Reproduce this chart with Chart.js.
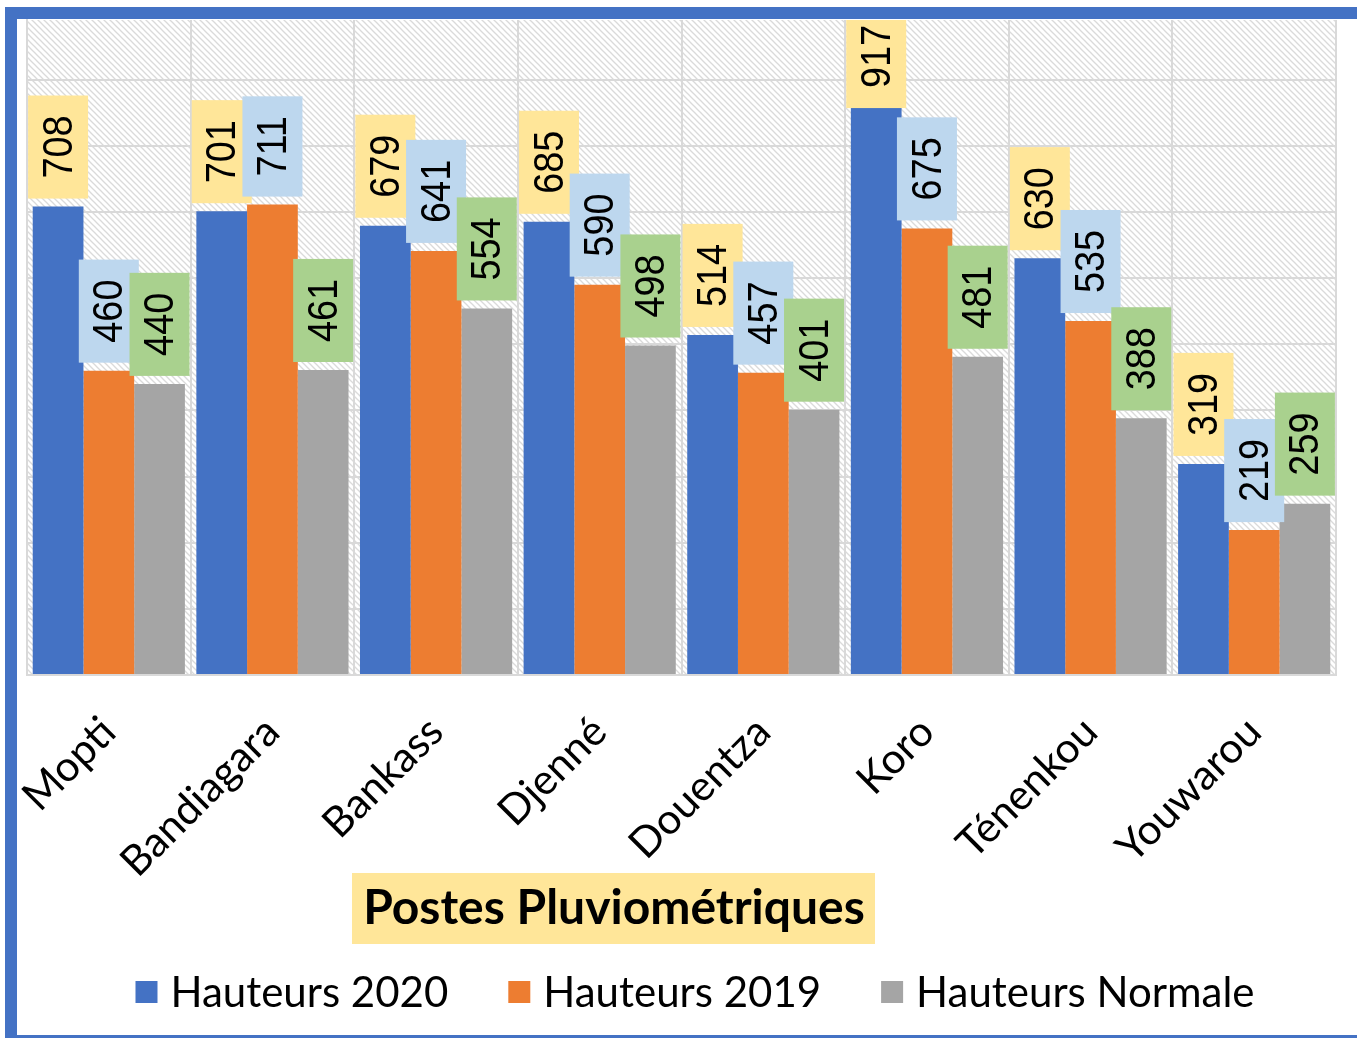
<!DOCTYPE html>
<html>
<head>
<meta charset="utf-8">
<title>Postes Pluviométriques</title>
<script src="https://cdn.jsdelivr.net/npm/chart.js@4.4.0/dist/chart.umd.min.js"></script>
<style>
  html, body { margin: 0; padding: 0; background: #fff; }
</style>
</head>
<body>
<canvas id="pluieChart" width="1357" height="1039"></canvas>
<script>
// données
var postes = ["Mopti", "Bandiagara", "Bankass", "Djenné", "Douentza", "Koro", "Ténenkou", "Youwarou"];
var hauteurs2020 = [708, 701, 679, 685, 514, 917, 630, 319];
var hauteurs2019 = [460, 711, 641, 590, 457, 675, 535, 219];
var hauteursNormale = [440, 461, 554, 498, 401, 481, 388, 259];
var seriesNames = ["Hauteurs 2020", "Hauteurs 2019", "Hauteurs Normale"];
var yTicks = [0, 100, 200, 300, 400, 500, 600, 700, 800, 900];
var axisTitle = "Postes Pluviométriques";

var barColors = ["#4472C4", "#ED7D31", "#A5A5A5"];
var labelColors = ["#FFE699", "#BDD7EE", "#A9D18E"];
var gridColor = "#D9D9D9";

// motif hachuré du fond
var hatch = (function() {
  var c = document.createElement("canvas");
  c.width = 6; c.height = 6;
  var g = c.getContext("2d");
  g.strokeStyle = "#DADADA";
  g.lineWidth = 1.3;
  [[-1, -1, 7, 7], [-1, 5, 1, 7], [5, -1, 7, 1]].forEach(function(l) {
    g.beginPath(); g.moveTo(l[0], l[1]); g.lineTo(l[2], l[3]); g.stroke();
  });
  return c;
})();

var decor = {
  id: "decor",
  beforeDraw: function(chart) {
    var ctx = chart.ctx, a = chart.chartArea;
    ctx.save();
    ctx.fillStyle = ctx.createPattern(hatch, "repeat");
    ctx.fillRect(a.left, a.top, a.right - a.left, a.bottom - a.top);
    ctx.restore();
  },
  afterDatasetsDraw: function(chart) {
    // étiquettes de valeurs, verticales, sur fond coloré
    var ctx = chart.ctx, a = chart.chartArea;
    var squeeze = 0.9;
    ctx.save();
    ctx.beginPath();
    ctx.rect(a.left, a.top, a.right - a.left, a.bottom - a.top);
    ctx.clip();
    ctx.font = '42px "Liberation Sans", sans-serif';
    chart.data.datasets.forEach(function(ds, i) {
      var meta = chart.getDatasetMeta(i);
      meta.data.forEach(function(bar, j) {
        var txt = String(ds.data[j]);
        var boxH = ctx.measureText(txt).width * squeeze + 40;
        var boxW = 60;
        var bottom = Math.max(bar.y - 8, 5 + boxH);
        var top = bottom - boxH;
        ctx.fillStyle = labelColors[i];
        ctx.fillRect(bar.x - boxW / 2, top, boxW, boxH);
        ctx.save();
        ctx.translate(bar.x, top + boxH / 2);
        ctx.rotate(-Math.PI / 2);
        ctx.scale(squeeze, 1);
        ctx.fillStyle = "#000";
        ctx.textAlign = "center";
        ctx.textBaseline = "middle";
        ctx.fillText(txt, 0, 2);
        ctx.restore();
      });
    });
    ctx.restore();
  },
  afterDraw: function(chart) {
    var ctx = chart.ctx;
    ctx.save();
    // titre de l'axe
    ctx.font = "bold 48px Lato";
    ctx.fillStyle = "#FFE699";
    ctx.fillRect(352, 873, 523, 71);
    ctx.fillStyle = "#000";
    ctx.textAlign = "center";
    ctx.textBaseline = "middle";
    ctx.fillText(axisTitle, 614, 909);

    // légende
    ctx.font = "42px Lato";
    ctx.textAlign = "left";
    var items = chart.data.datasets.map(function(ds) {
      return { text: ds.label, color: ds.backgroundColor, w: ctx.measureText(ds.label).width };
    });
    var total = items.reduce(function(s, it) { return s + 22 + 13 + it.w; }, 0) + 60 * (items.length - 1);
    var x = 695 - total / 2;
    items.forEach(function(it) {
      ctx.fillStyle = it.color;
      ctx.fillRect(x, 981, 22, 22);
      ctx.fillStyle = "#000";
      ctx.fillText(it.text, x + 35, 993);
      x += 35 + it.w + 60;
    });

    // cadre bleu
    ctx.fillStyle = "#4472C4";
    ctx.fillRect(5, 7, 12, 1031);
    ctx.fillRect(5, 7, 1352, 12);
    ctx.fillRect(5, 1035, 1352, 3);
    ctx.restore();
  }
};

new Chart(document.getElementById("pluieChart"), {
  type: "bar",
  data: {
    labels: postes,
    datasets: [
      { label: seriesNames[0], data: hauteurs2020, backgroundColor: barColors[0] },
      { label: seriesNames[1], data: hauteurs2019, backgroundColor: barColors[1] },
      { label: seriesNames[2], data: hauteursNormale, backgroundColor: barColors[2] }
    ]
  },
  options: {
    responsive: false,
    animation: false,
    events: [],
    datasets: { bar: { barPercentage: 1, categoryPercentage: 0.93 } },
    layout: { padding: { left: 0, right: 21, top: 20, bottom: 0 } },
    plugins: {
      legend: { display: false },
      tooltip: { enabled: false }
    },
    scales: {
      x: {
        grid: { color: gridColor, lineWidth: 2, drawTicks: false },
        border: { color: gridColor, width: 2 },
        ticks: {
          color: "#000",
          font: { family: "Lato", size: 42 },
          minRotation: 45,
          maxRotation: 45,
          padding: 32
        },
        afterFit: function(s) {
          s.height = 364;
          s.paddingLeft = 0;
          s.paddingRight = 0;
        }
      },
      y: {
        min: 0,
        max: 990,
        ticks: { display: false },
        afterBuildTicks: function(s) {
          s.ticks = yTicks.map(function(v) { return { value: v }; });
        },
        grid: { color: gridColor, lineWidth: 2, drawTicks: false },
        border: { color: gridColor, width: 2 },
        afterFit: function(s) { s.width = 27; }
      }
    }
  },
  plugins: [decor]
});
</script>
</body>
</html>
